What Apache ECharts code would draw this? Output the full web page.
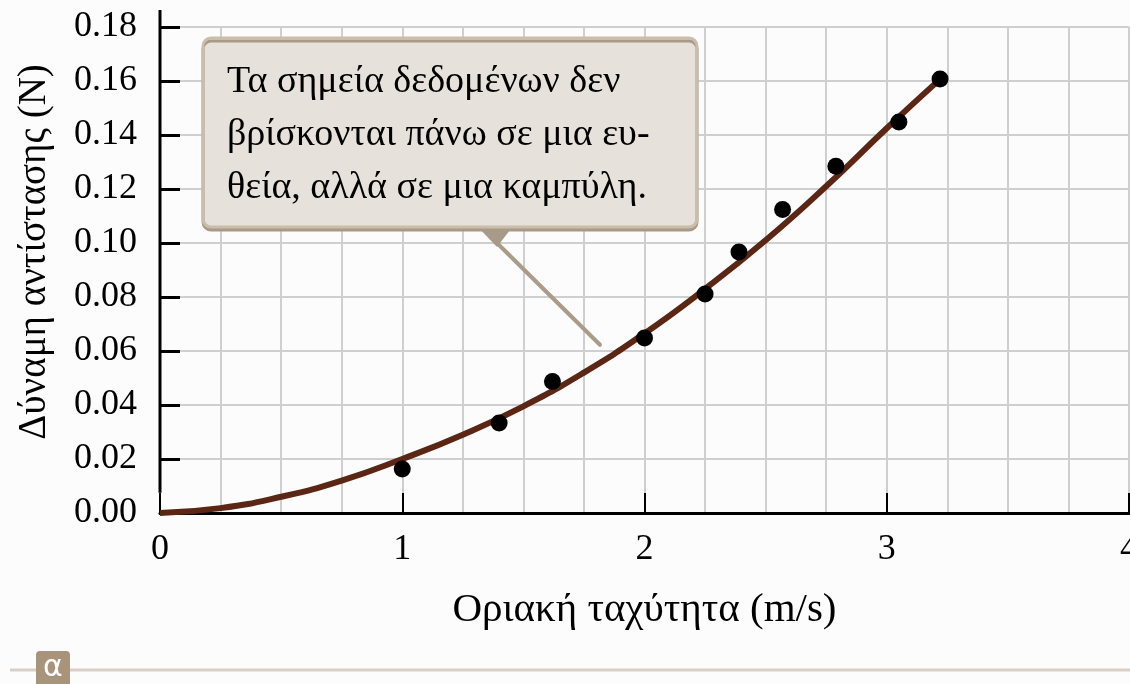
<!DOCTYPE html>
<html>
<head>
<meta charset="utf-8">
<script src="https://cdn.jsdelivr.net/npm/echarts@6/dist/echarts.min.js"></script>
<style>
  html, body { margin: 0; padding: 0; background: #fcfcfc; }
  #chart { width: 1130px; height: 684px; }
</style>
</head>
<body>
<div id="chart"></div>
<script>
// measured data points (terminal speed m/s, drag force N)
const pointsX = [1.00, 1.40, 1.62, 2.00, 2.25, 2.39, 2.57, 2.79, 3.05, 3.22];
const pointsY = [0.0163, 0.0333, 0.0487, 0.0648, 0.0811, 0.0967, 0.1124, 0.1284, 0.1448, 0.1607];

// fitted curve
const curveX = [0, 0.25, 0.5, 0.75, 1.0, 1.25, 1.5, 1.75, 2.0, 2.25, 2.5, 2.75, 3.0, 3.22];
const curveY = [0, 0.0018, 0.0060, 0.0120, 0.0200, 0.0290, 0.0395, 0.0520, 0.0665, 0.0830, 0.1010, 0.1210, 0.1425, 0.1607];

const xTicks = [0, 1, 2, 3, 4];
const yTicks = [0, 0.02, 0.04, 0.06, 0.08, 0.10, 0.12, 0.14, 0.16, 0.18];

const xTitle = "Οριακή ταχύτητα (m/s)";
const yTitle = "Δύναμη αντίστασης (N)";
const noteLines = [
  "Τα σημεία δεδομένων δεν",
  "βρίσκονται πάνω σε μια ευ-",
  "θεία, αλλά σε μια καμπύλη."
];
const panelLetter = "α";

const serif = "Liberation Serif";

const chart = echarts.init(document.getElementById("chart"));

const option = {
  backgroundColor: "#fcfcfc",
  animation: false,
  grid: { left: 160, right: 1, top: 27, bottom: 171, outerBoundsMode: "none" },
  xAxis: {
    type: "value",
    min: xTicks[0],
    max: xTicks[xTicks.length - 1],
    interval: 1,
    name: xTitle,
    nameLocation: "middle",
    nameGap: 77,
    nameTextStyle: { fontFamily: serif, fontSize: 41, color: "#000" },
    axisLine: { show: true, lineStyle: { color: "#000", width: 3 } },
    axisTick: { show: true, inside: true, length: 20, lineStyle: { color: "#000", width: 2 } },
    axisLabel: { fontFamily: serif, fontSize: 36, color: "#000", margin: 19 },
    splitLine: { show: true, lineStyle: { color: "#cfcfcf", width: 2 } },
    minorTick: { show: false, splitNumber: 4 },
    minorSplitLine: { show: true, lineStyle: { color: "#cfcfcf", width: 2 } }
  },
  yAxis: {
    type: "value",
    min: yTicks[0],
    max: yTicks[yTicks.length - 1],
    interval: 0.02,
    name: yTitle,
    nameLocation: "middle",
    nameGap: 106,
    nameTextStyle: { fontFamily: serif, fontSize: 39, color: "#000", padding: [0, 0, 0, 36] },
    axisLine: { show: false },
    axisTick: { show: true, inside: true, length: 20, lineStyle: { color: "#000", width: 3 } },
    axisLabel: {
      fontFamily: serif, fontSize: 36, color: "#000", margin: 23,
      formatter: v => v.toFixed(2)
    },
    splitLine: { show: true, lineStyle: { color: "#cfcfcf", width: 2 } }
  },
  series: [
    {
      name: "curve",
      type: "line",
      smooth: true,
      showSymbol: false,
      data: curveX.map((x, i) => [x, curveY[i]]),
      lineStyle: { color: "#5b2613", width: 6 },
      z: 2
    },
    {
      name: "points",
      type: "scatter",
      symbolSize: 17,
      data: pointsX.map((x, i) => [x, pointsY[i]]),
      itemStyle: { color: "#000", opacity: 1 },
      z: 3
    }
  ]
};

chart.setOption(option);

// annotation and decorations
const axisTop = chart.convertToPixel({ gridIndex: 0 }, [0, 0.18]);
const axisLow = chart.convertToPixel({ gridIndex: 0 }, [0, 0.0075]);
const tip = chart.convertToPixel({ gridIndex: 0 }, [1.816, 0.0623]);

chart.setOption({
  graphic: [
    {
      type: "line",
      shape: { x1: axisTop[0], y1: axisTop[1] - 17, x2: axisLow[0], y2: axisLow[1] },
      style: { stroke: "#000", lineWidth: 3 },
      z: 10
    },
    {
      type: "line",
      shape: { x1: 497, y1: 243, x2: tip[0], y2: tip[1] },
      style: { stroke: "#ab9c8a", lineWidth: 4, lineCap: "round" },
      z: 10
    },
    {
      type: "polygon",
      shape: { points: [[477, 226], [513, 226], [497, 247]] },
      style: { fill: "#a89a88" },
      z: 10
    },
    {
      type: "rect",
      shape: { x: 203, y: 38, width: 494, height: 189, r: 8 },
      style: {
        fill: "#e7e1db", stroke: "#cabdac", lineWidth: 3,
        shadowColor: "#a99a88", shadowOffsetY: 3, shadowBlur: 0
      },
      z: 11
    },
    {
      type: "text",
      x: 227,
      y: 56,
      style: {
        text: noteLines.join("\n"),
        fontFamily: serif,
        fontSize: 38,
        lineHeight: 53,
        fill: "#000",
        verticalAlign: "top"
      },
      z: 12
    },
    {
      type: "line",
      shape: { x1: 10, y1: 670, x2: 1130, y2: 670 },
      style: { stroke: "#d9cfc5", lineWidth: 3 },
      z: 10
    },
    {
      type: "rect",
      shape: { x: 36, y: 651, width: 34, height: 40, r: [4, 4, 0, 0] },
      style: { fill: "#a8937b" },
      z: 11
    },
    {
      type: "text",
      x: 53,
      y: 668,
      style: {
        text: panelLetter,
        fontFamily: "DejaVu Sans",
        fontSize: 30,
        fill: "#fff",
        align: "center",
        verticalAlign: "middle"
      },
      z: 12
    }
  ]
});
</script>
</body>
</html>
